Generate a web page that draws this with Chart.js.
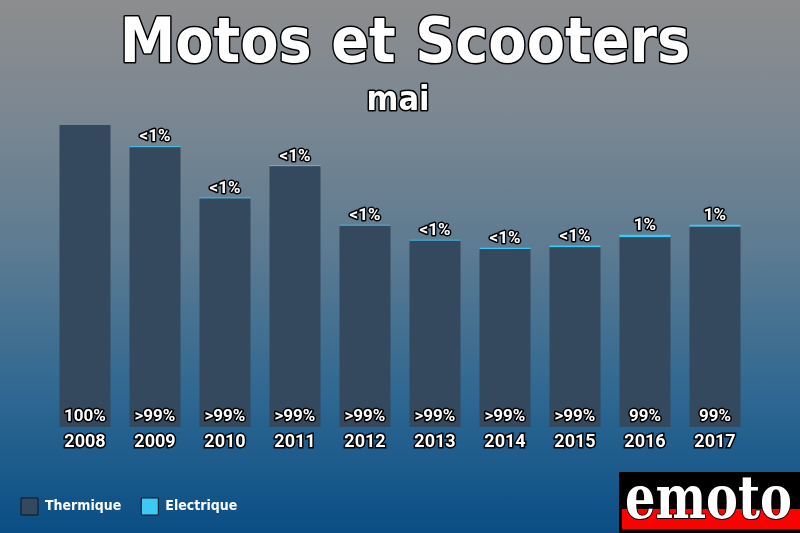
<!DOCTYPE html>
<html>
<head>
<meta charset="utf-8">
<script src="https://cdn.jsdelivr.net/npm/chart.js@4"></script>
<style>
  html, body { margin: 0; padding: 0; }
  body {
    width: 800px; height: 533px; overflow: hidden;
    background: linear-gradient(to bottom, #8d8d8e 0%, #7a8792 22%, #5b7a91 48%, #2f6892 74%, #0a4e85 100%);
  }
  #c { display: block; }
</style>
</head>
<body>
<canvas id="c" width="800" height="533"></canvas>
<script>
const titleText = 'Motos et Scooters';
const subtitleText = 'mai';
const categories = ['2008', '2009', '2010', '2011', '2012', '2013', '2014', '2015', '2016', '2017'];
const thermique = [30000, 27800, 22700, 25900, 20000, 18490, 17690, 17860, 18840, 19880];
const electrique = [0, 100, 100, 100, 100, 110, 110, 160, 260, 220];
const seriesNames = ['Thermique', 'Electrique'];
const seriesColors = ['#34495e', '#3ec8f4'];

function pctLabels(i) {
  const t = thermique[i], e = electrique[i], tot = t + e;
  if (e === 0) return { bottom: '100%', top: '' };
  const pe = e / tot * 100;
  if (pe < 1) return { bottom: '>99%', top: '<1%' };
  const r = Math.round(pe);
  return { bottom: (100 - r) + '%', top: r + '%' };
}

function outlinedText(ctx, text, x, y, lw) {
  ctx.lineJoin = 'round';
  ctx.lineWidth = lw;
  ctx.strokeStyle = '#000';
  ctx.strokeText(text, x, y);
  ctx.fillStyle = '#fff';
  ctx.fillText(text, x, y);
}

const decorPlugin = {
  id: 'decor',
  afterDatasetsDraw(chart) {
    const ctx = chart.ctx;
    const m0 = chart.getDatasetMeta(0);
    const m1 = chart.getDatasetMeta(1);
    ctx.save();
    ctx.textAlign = 'center';
    ctx.textBaseline = 'middle';
    ctx.font = "bold 17px Roboto";
    categories.forEach((c, i) => {
      const b = m0.data[i];
      const top = m1.data[i];
      const lab = pctLabels(i);
      outlinedText(ctx, lab.bottom, b.x, b.base - 10, 3);
      if (lab.top) outlinedText(ctx, lab.top, top.x, top.y - 9, 3);
    });
    ctx.restore();
  },
  afterDraw(chart) {
    const ctx = chart.ctx;
    ctx.save();
    ctx.textAlign = 'center';
    ctx.textBaseline = 'alphabetic';
    try { ctx.fontStretch = 'condensed'; } catch (e) {}
    ctx.font = "bold 62px 'DejaVu Sans Condensed', 'DejaVu Sans'";
    outlinedText(ctx, titleText, 405, 62, 3);
    ctx.font = "bold 34px 'DejaVu Sans Condensed', 'DejaVu Sans'";
    outlinedText(ctx, subtitleText, 398, 110, 3);
    try { ctx.fontStretch = 'normal'; } catch (e) {}
    // logo
    ctx.fillStyle = '#000';
    ctx.fillRect(619, 472, 181, 61);
    ctx.fillStyle = '#ff0000';
    ctx.fillRect(622, 509, 178, 20);
    ctx.font = "bold 60px 'DejaVu Serif'";
    ctx.textAlign = 'left';
    const w = ctx.measureText('emoto').width;
    ctx.translate(625, 518);
    ctx.scale(167 / w, 1);
    ctx.lineJoin = 'round';
    ctx.lineWidth = 2;
    ctx.strokeStyle = '#000';
    ctx.strokeText('emoto', 0, 0);
    ctx.fillStyle = '#fff';
    ctx.fillText('emoto', 0, 0);
    ctx.restore();
  }
};

new Chart(document.getElementById('c'), {
  type: 'bar',
  data: {
    labels: categories,
    datasets: [
      { label: seriesNames[0], data: thermique, backgroundColor: seriesColors[0], borderWidth: 0, stack: 's' },
      { label: seriesNames[1], data: electrique, backgroundColor: seriesColors[1], borderWidth: 0, stack: 's' }
    ]
  },
  options: {
    responsive: false,
    animation: false,
    devicePixelRatio: 1,
    layout: { padding: { top: 125, left: 1, right: 0, bottom: 8 } },
    datasets: { bar: { barPercentage: 51 / 70, categoryPercentage: 1 } },
    scales: {
      x: {
        stacked: true,
        grid: { display: false, drawTicks: false },
        border: { display: false },
        ticks: {
          color: '#fff',
          font: { family: 'Roboto', weight: 'bold', size: 18 },
          textStrokeColor: '#000',
          textStrokeWidth: 3,
          padding: 5
        },
        afterFit(s) { s.height = 51; }
      },
      y: {
        stacked: true,
        min: 0,
        max: 30000,
        grid: { display: false, drawTicks: false },
        border: { display: false },
        ticks: { display: false },
        afterFit(s) { s.width = 49; }
      },
      yr: {
        type: 'linear',
        position: 'right',
        grid: { display: false, drawTicks: false },
        border: { display: false },
        ticks: { display: false },
        afterFit(s) { s.width = 50; }
      }
    },
    plugins: {
      title: { display: false },
      tooltip: { enabled: false },
      legend: {
        display: true,
        position: 'bottom',
        align: 'start',
        labels: {
          color: '#fff',
          boxWidth: 17,
          boxHeight: 17,
          padding: 20,
          font: { family: "'DejaVu Sans Condensed', 'DejaVu Sans', sans-serif", weight: 'bold', size: 14 },
          generateLabels(chart) {
            const items = Chart.defaults.plugins.legend.labels.generateLabels(chart);
            items.forEach(it => { it.strokeStyle = '#0b1626'; it.lineWidth = 1; });
            return items;
          }
        }
      }
    }
  },
  plugins: [decorPlugin]
});
</script>
</body>
</html>
